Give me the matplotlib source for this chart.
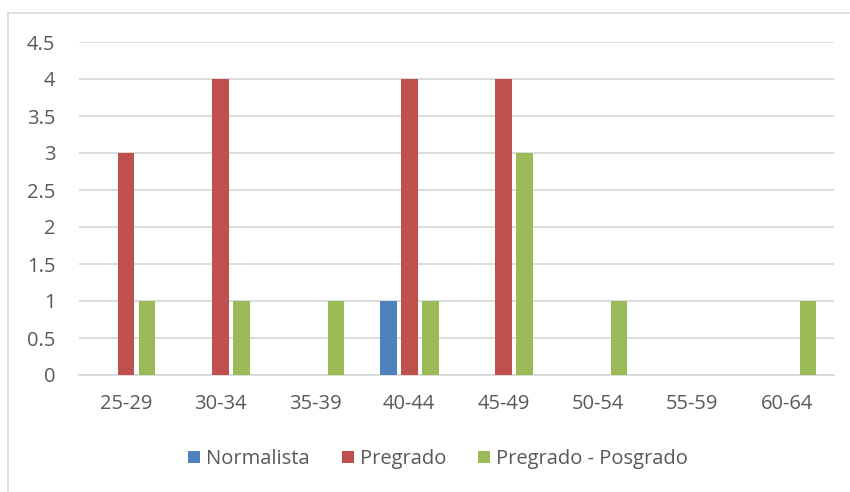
import numpy as np
import matplotlib
matplotlib.use("Agg")
import matplotlib.pyplot as plt
from matplotlib.lines import Line2D

categories = ["25-29", "30-34", "35-39", "40-44", "45-49", "50-54", "55-59", "60-64"]
normalista = [0, 0, 0, 1, 0, 0, 0, 0]
pregrado = [3, 4, 0, 4, 4, 0, 0, 0]
pregrado_posgrado = [1, 1, 1, 1, 3, 1, 0, 1]
yticks = [0, 0.5, 1, 1.5, 2, 2.5, 3, 3.5, 4, 4.5]
ytick_labels = ["0", "0.5", "1", "1.5", "2", "2.5", "3", "3.5", "4", "4.5"]

series = [
    ("Normalista", normalista, "#4F81BD"),
    ("Pregrado", pregrado, "#C0504D"),
    ("Pregrado - Posgrado", pregrado_posgrado, "#9BBB59"),
]

plt.rcParams["font.family"] = ["Open Sans", "DejaVu Sans"]
TXT = "#595959"
FS = 14.5

fig = plt.figure(figsize=(8.5, 4.92), dpi=100)
ax = fig.add_axes([79 / 850, 1 - 375 / 492, (834 - 79) / 850, (375 - 42) / 492])

x = np.arange(len(categories))
width = 0.175
step = 0.223
for i, (name, vals, col) in enumerate(series):
    ax.bar(x + (i - 1) * step, vals, width=width, color=col, label=name,
           zorder=3)

ax.set_xlim(-0.5, len(categories) - 0.5)
ax.set_ylim(0, 4.5)
ax.set_yticks(yticks)
ax.set_yticklabels(ytick_labels)
ax.set_xticks(x)
ax.set_xticklabels(categories)
ax.tick_params(axis="both", length=0, labelsize=FS, colors=TXT)
ax.tick_params(axis="y", pad=17)
ax.tick_params(axis="x", pad=14)
ax.grid(axis="y", color="#D9D9D9", linewidth=1.3, zorder=0)
for s in ("top", "right", "left"):
    ax.spines[s].set_visible(False)
ax.spines["bottom"].set_color("#D9D9D9")
ax.spines["bottom"].set_linewidth(1.3)

leg = ax.legend(loc="center", bbox_to_anchor=(438 / 850, 1 - 459 / 492),
                bbox_transform=fig.transFigure, ncol=3, frameon=False,
                fontsize=FS, handlelength=0.6, handleheight=0.6,
                handletextpad=0.3, columnspacing=1.6)
for t in leg.get_texts():
    t.set_color(TXT)

# chart frame (only top and left edges are visible)
fig.add_artist(Line2D([8 / 850, 1], [1 - 13 / 492] * 2, color="#D9D9D9",
                      linewidth=1.2, transform=fig.transFigure))
fig.add_artist(Line2D([8 / 850] * 2, [0, 1 - 13 / 492], color="#D9D9D9",
                      linewidth=1.2, transform=fig.transFigure))

fig.savefig("out.png", dpi=100)
